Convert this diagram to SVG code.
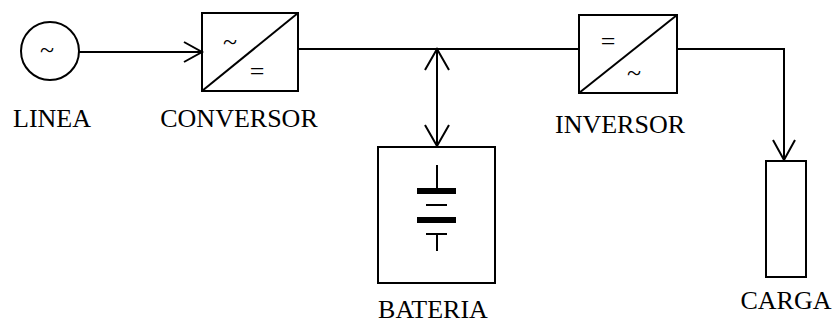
<svg xmlns="http://www.w3.org/2000/svg" width="833" height="325" viewBox="0 0 833 325">
<style>
.s{fill:none;stroke:#000;stroke-width:2}
.t{font-family:"Liberation Serif","Times New Roman",serif;font-size:26px;fill:#000;text-anchor:middle}
.sym{font-family:"Liberation Serif","Times New Roman",serif;font-size:26px;fill:#000;text-anchor:middle}
</style>
<rect width="833" height="325" fill="#fff"/>
<g id="linea">
<circle class="s" cx="50" cy="51" r="29"/>
<text class="sym" x="47" y="58">~</text>
<text class="t" x="52" y="127">LINEA</text>
</g>
<g id="conversor">
<rect class="s" x="202" y="13" width="96" height="78"/>
<line class="s" x1="202" y1="91" x2="298" y2="13"/>
<text class="sym" x="230" y="50">~</text>
<text class="sym" x="257" y="80">=</text>
<text class="t" x="239" y="127">CONVERSOR</text>
</g>
<g id="inversor">
<rect class="s" x="579" y="15" width="98" height="78"/>
<line class="s" x1="579" y1="93" x2="677" y2="15"/>
<text class="sym" x="608" y="50">=</text>
<text class="sym" x="634" y="81">~</text>
<text class="t" x="620" y="133">INVERSOR</text>
</g>
<g id="bateria">
<rect class="s" x="378" y="147" width="117" height="136"/>
<line class="s" x1="437" y1="165" x2="437" y2="188"/>
<line x1="417" y1="191" x2="456" y2="191" stroke="#000" stroke-width="6"/>
<line class="s" x1="426" y1="205" x2="447" y2="205"/>
<line x1="417" y1="220" x2="456" y2="220" stroke="#000" stroke-width="6"/>
<line class="s" x1="426" y1="234" x2="447" y2="234"/>
<line class="s" x1="437" y1="234" x2="437" y2="251"/>
<text class="t" x="433" y="318">BATERIA</text>
</g>
<g id="carga">
<rect class="s" x="766" y="161" width="40" height="116"/>
<text class="t" x="786" y="309">CARGA</text>
</g>
<g id="connectors">
<line class="s" x1="79" y1="52" x2="202" y2="52"/>
<polyline class="s" points="184,42 202,52 184,62"/>
<line class="s" x1="298" y1="49" x2="579" y2="49"/>
<line class="s" x1="437" y1="49" x2="437" y2="147"/>
<polyline class="s" points="425,70 437,49 449,70"/>
<polyline class="s" points="425,125 437,146 449,125"/>
<polyline class="s" points="677,49 784,49 784,161"/>
<polyline class="s" points="773,140 784,160 795,140"/>
</g>
</svg>
